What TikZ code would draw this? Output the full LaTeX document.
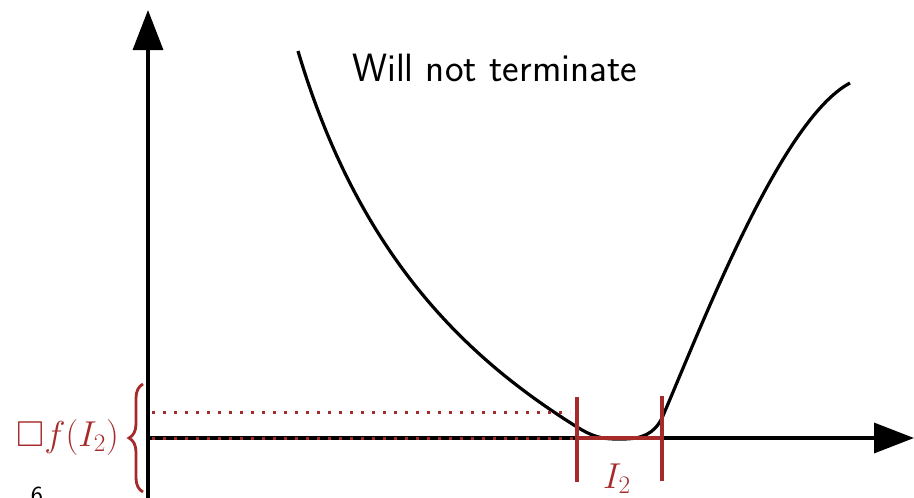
\documentclass[tikz,border=0pt]{standalone}
\usepackage{fix-cm}
\usepackage{amssymb}
\usetikzlibrary{arrows.meta, decorations.pathreplacing}
\DeclareFontFamily{U}{msa}{}
\DeclareFontShape{U}{msa}{m}{n}{<-> msam10}{}
\definecolor{alertred}{RGB}{165,42,42}
\tikzset{
  axisline/.style={line width=3.4pt, -{Triangle[length=40pt,width=30pt]}},
  curveline/.style={line width=3.2pt, line join=round},
  markline/.style={line width=3.2pt, draw=alertred},
  dotline/.style={line width=3pt, draw=alertred, dash pattern=on 3pt off 8pt},
  bracemark/.style={line width=2.8pt, draw=alertred, decorate,
                    decoration={brace, amplitude=14pt}},
  redlabel/.style={text=alertred, font=\fontsize{36}{40}\selectfont, inner sep=0pt},
}

\begin{document}
\begin{tikzpicture}[x={(1pt,0)}, y={(0,-1pt)}]
  \useasboundingbox (0,0) rectangle (914,498);
  \clip (0,0) rectangle (914,498);

  % axes
  \coordinate (origin) at (148,438);
  \draw[axisline] (148,498) -- (148,10);
  \draw[axisline] (origin) -- (914,438);

  % the function
  \draw[curveline] (298,51) .. controls (360,260) and (470,360) .. (577,427)
    .. controls (597,439.5) and (607,439) .. (622,439)
    .. controls (642,439) and (654,434) .. (662,418)
    .. controls (700,330) and (780,120) .. (850,83);

  \node[font=\sffamily\fontsize{39.5}{46}\selectfont, anchor=base west, inner sep=0pt]
    (msg) at (352,81) {Will not terminate};

  % interval I_2 and its image
  \coordinate (lo) at (577,438);
  \coordinate (hi) at (662,438);
  \draw[dotline] (152,412) -- (570,412);
  \draw[dotline] (152,438) -- (575,438);
  \draw[markline] (577,397) -- (577,482);
  \draw[markline] (662,396) -- (662,481);
  \draw[markline] (lo) -- (hi);
  \node[redlabel, anchor=base] (ilab) at (617,488) {$I_2$};

  \draw[bracemark] (143,492) -- (143,384);
  \node[redlabel, anchor=base east] (flab) at (119,446) {$\square f(I_2)$};

  \node[font=\sffamily\fontsize{26}{30}\selectfont, anchor=north, inner sep=0pt]
    (pagenum) at (37,487) {6};
\end{tikzpicture}
\end{document}
